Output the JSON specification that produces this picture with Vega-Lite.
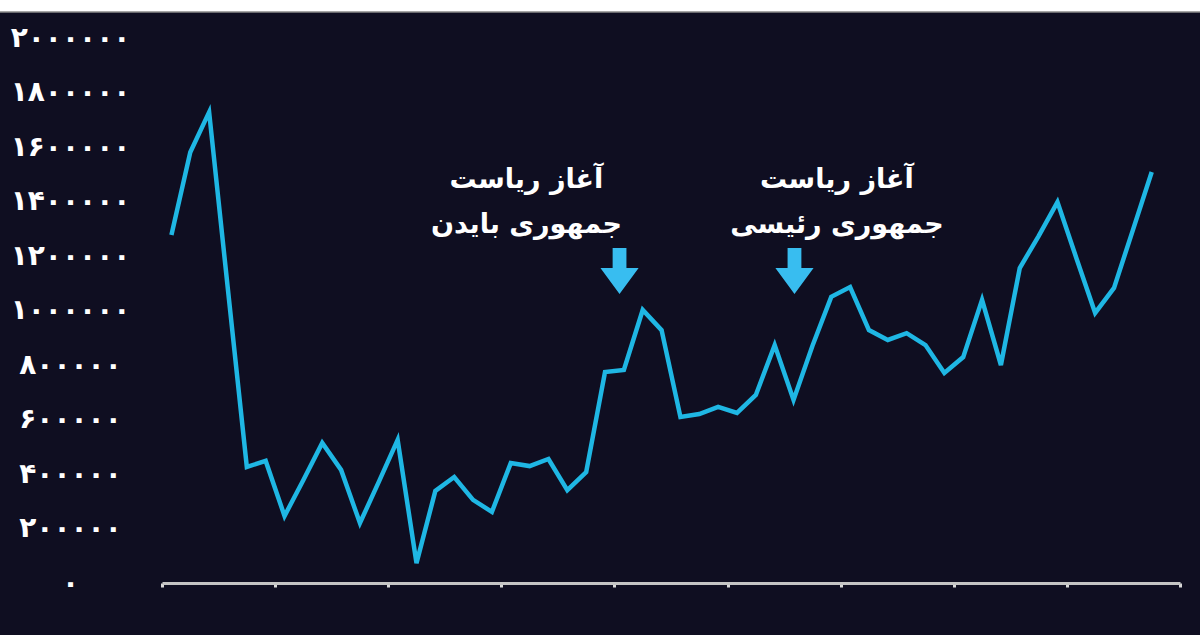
{
  "$schema": "https://vega.github.io/schema/vega-lite/v6.json",
  "width": 1018,
  "height": 545,
  "autosize": {"type": "none"},
  "padding": {"left": 162, "top": 38, "right": 20, "bottom": 52},
  "background": "#0f0e21",
  "config": {
    "view": {"stroke": null},
    "font": "DejaVu Sans"
  },
  "datasets": {
    "series": [
      {"i": 0, "v": 1277000}, {"i": 1, "v": 1581000}, {"i": 2, "v": 1728000},
      {"i": 3, "v": 1075000}, {"i": 4, "v": 426000}, {"i": 5, "v": 448000},
      {"i": 6, "v": 246000}, {"i": 7, "v": 378000}, {"i": 8, "v": 514000},
      {"i": 9, "v": 415000}, {"i": 10, "v": 220000}, {"i": 11, "v": 371000},
      {"i": 12, "v": 525000}, {"i": 13, "v": 73000}, {"i": 14, "v": 338000},
      {"i": 15, "v": 389000}, {"i": 16, "v": 305000}, {"i": 17, "v": 261000},
      {"i": 18, "v": 440000}, {"i": 19, "v": 429000}, {"i": 20, "v": 455000},
      {"i": 21, "v": 341000}, {"i": 22, "v": 407000}, {"i": 23, "v": 774000},
      {"i": 24, "v": 782000}, {"i": 25, "v": 1002000}, {"i": 26, "v": 928000},
      {"i": 27, "v": 609000}, {"i": 28, "v": 620000}, {"i": 29, "v": 646000},
      {"i": 30, "v": 624000}, {"i": 31, "v": 690000}, {"i": 32, "v": 873000},
      {"i": 33, "v": 672000}, {"i": 34, "v": 870000}, {"i": 35, "v": 1050000},
      {"i": 36, "v": 1086000}, {"i": 37, "v": 928000}, {"i": 38, "v": 892000},
      {"i": 39, "v": 917000}, {"i": 40, "v": 873000}, {"i": 41, "v": 771000},
      {"i": 42, "v": 829000}, {"i": 43, "v": 1039000}, {"i": 44, "v": 800000},
      {"i": 45, "v": 1156000}, {"i": 46, "v": 1273000}, {"i": 47, "v": 1398000},
      {"i": 48, "v": 1193000}, {"i": 49, "v": 991000}, {"i": 50, "v": 1083000},
      {"i": 51, "v": 1295000}, {"i": 52, "v": 1508000}
    ],
    "notes": [
      {"i": 18.83, "v": 1479000, "t": "آغاز ریاست"},
      {"i": 18.83, "v": 1314000, "t": "جمهوری بایدن"},
      {"i": 35.3, "v": 1479000, "t": "آغاز ریاست"},
      {"i": 35.3, "v": 1314000, "t": "جمهوری رئیسی"}
    ],
    "arrows": [
      {"i": 23.77, "v": 1145000},
      {"i": 33.05, "v": 1145000}
    ]
  },
  "layer": [
    {
      "data": {"name": "series"},
      "mark": {"type": "line", "color": "#1fb7e4", "strokeWidth": 4.5, "strokeJoin": "miter"},
      "encoding": {
        "x": {
          "field": "i",
          "type": "quantitative",
          "title": null,
          "scale": {"domain": [-0.5, 53.5], "nice": false, "zero": false},
          "axis": {
            "values": [-0.5, 5.5, 11.5, 17.5, 23.5, 29.5, 35.5, 41.5, 47.5, 53.5],
            "labels": false,
            "grid": false,
            "domainColor": "#c4c4c4",
            "domainWidth": 3,
            "tickColor": "#d8d8d8",
            "tickWidth": 3,
            "tickSize": 4
          }
        },
        "y": {
          "field": "v",
          "type": "quantitative",
          "title": null,
          "scale": {"domain": [0, 2000000], "nice": false, "zero": true},
          "axis": {
            "values": [0, 200000, 400000, 600000, 800000, 1000000, 1200000, 1400000, 1600000, 1800000, 2000000],
            "format": "d",
            "labelExpr": "replace(replace(replace(replace(replace(replace(datum.label, regexp('0', 'g'), '۰'), regexp('1', 'g'), '۱'), regexp('2', 'g'), '۲'), regexp('4', 'g'), '۴'), regexp('6', 'g'), '۶'), regexp('8', 'g'), '۸')",
            "domain": false,
            "ticks": false,
            "grid": false,
            "labelAlign": "center",
            "labelBaseline": "middle",
            "labelPadding": 92,
            "labelColor": "#ffffff",
            "labelFont": "DejaVu Sans",
            "labelFontSize": 28,
            "labelFontWeight": "bold"
          }
        }
      }
    },
    {
      "data": {"name": "notes"},
      "mark": {"type": "text", "color": "#ffffff", "fontSize": 27, "fontWeight": "bold", "align": "center", "baseline": "middle", "font": "DejaVu Sans"},
      "encoding": {
        "x": {"field": "i", "type": "quantitative"},
        "y": {"field": "v", "type": "quantitative"},
        "text": {"field": "t"}
      }
    },
    {
      "data": {"name": "arrows"},
      "mark": {
        "type": "point",
        "filled": true,
        "color": "#38bdf0",
        "opacity": 1,
        "size": 2116,
        "shape": "M-0.3,-1 L0.3,-1 L0.3,-0.13 L0.83,-0.13 L0,1 L-0.83,-0.13 L-0.3,-0.13 Z"
      },
      "encoding": {
        "x": {"field": "i", "type": "quantitative"},
        "y": {"field": "v", "type": "quantitative"}
      }
    },
    {
      "data": {"values": [{}]},
      "mark": {"type": "rect", "fill": "#ffffff", "stroke": "#8a8a8a", "strokeWidth": 1.5},
      "encoding": {
        "x": {"datum": -12, "type": "quantitative", "title": null},
        "x2": {"datum": 60},
        "y": {"datum": 2095000, "type": "quantitative", "title": null},
        "y2": {"datum": 2400000}
      }
    }
  ]
}
